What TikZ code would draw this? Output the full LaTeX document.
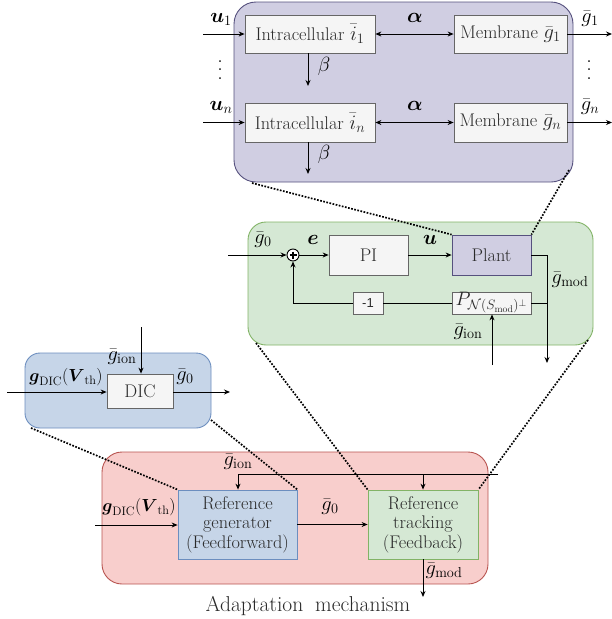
\RequirePackage{fix-cm}
\documentclass[tikz,border=0pt]{standalone}
\usepackage{amsmath,amssymb}
\usepackage{fontspec}
\newfontfamily\arialfont{Liberation Sans}
\usetikzlibrary{arrows.meta,calc}
\definecolor{purpfill}{HTML}{D0CEE2}
\definecolor{purpdraw}{HTML}{56517E}
\definecolor{grnfill}{HTML}{D5E8D4}
\definecolor{grndraw}{HTML}{82B366}
\definecolor{blufill}{HTML}{C6D5E8}
\definecolor{bludraw}{HTML}{6C8EBF}
\definecolor{redfill}{HTML}{F8CECC}
\definecolor{reddraw}{HTML}{B85450}
\definecolor{gboxfill}{HTML}{F5F5F5}
\definecolor{gboxdraw}{HTML}{666666}
\definecolor{boxtext}{HTML}{2A2A2A}
\newcommand\bigmath[1]{{\fontsize{20.5}{22}\selectfont$#1$}}
\begin{document}
\begin{tikzpicture}[x=1pt,y=-1pt,
  every node/.style={font=\fontsize{18.3}{19.5}\selectfont},
  outer/.style={draw, line width=0.9pt, inner sep=0pt, minimum width=#1},
  graybox/.style={draw=gboxdraw, fill=gboxfill, text=boxtext, line width=0.8pt, inner sep=0pt},
  lbl/.style={inner sep=0pt, font=\fontsize{20.5}{22}\selectfont},
  smalllbl/.style={inner sep=0pt, font=\fontsize{17.5}{20}\selectfont},
  vdotsnode/.style={inner sep=0pt, align=center, font=\fontsize{22}{8.5}\selectfont},
  arr/.style={-{Stealth[length=6pt,width=5pt]}, line width=0.9pt},
  darr/.style={{Stealth[length=6pt,width=5pt]}-{Stealth[length=6pt,width=5pt]}, line width=0.9pt},
  ln/.style={line width=0.9pt},
  zoomline/.style={line width=1.7pt, dash pattern=on 1.7pt off 1.5pt}
]
\useasboundingbox (0,0) rectangle (612,619);

% ---------- outer containers ----------
\node[outer=339pt, minimum height=180pt, draw=purpdraw, fill=purpfill, rounded corners=22pt] (purp) at (403.5,92) {};
\node[outer=345pt, minimum height=123pt, draw=grndraw, fill=grnfill, rounded corners=18pt] (grn) at (420.5,283.5) {};
\node[outer=186pt, minimum height=75pt, draw=bludraw, fill=blufill, rounded corners=15pt] (blu) at (118,390.5) {};
\node[outer=386pt, minimum height=132pt, draw=reddraw, fill=redfill, rounded corners=20pt] (red) at (295,518) {};

% ---------- inner boxes ----------
\node[graybox, minimum width=130pt, minimum height=38pt] (in1) at (310,34) {Intracellular \bigmath{\bar{i}_1}};
\node[graybox, minimum width=113pt, minimum height=38pt] (m1) at (510.5,34) {Membrane \bigmath{\bar{g}_1}};
\node[graybox, minimum width=130pt, minimum height=39pt] (inn) at (310,122.5) {Intracellular \bigmath{\bar{i}_n}};
\node[graybox, minimum width=113pt, minimum height=39pt] (mn) at (510.5,122.5) {Membrane \bigmath{\bar{g}_n}};

\node[graybox, minimum width=79pt, minimum height=40pt] (pi) at (368.5,255) {PI};
\node[graybox, draw=purpdraw, fill=purpfill, minimum width=79pt, minimum height=40pt] (plant) at (491.5,255) {Plant};
\node[graybox, minimum width=79pt, minimum height=22pt, font=\fontsize{19.5}{22}\selectfont] (proj) at (491.5,303) {$P_{\mathcal{N}(S_{\mathrm{mod}})^{\perp}}$};
\node[graybox, minimum width=30pt, minimum height=22pt, font=\arialfont\fontsize{13}{15}\selectfont] (neg) at (368,303) {-1};
\node[circle, draw, line width=0.9pt, fill=white, minimum size=12pt, inner sep=0pt] (sum) at (293,255) {};
\draw[line width=1.6pt] ($(sum.center)+(-3.5,0)$) -- ($(sum.center)+(3.5,0)$)
  ($(sum.center)+(0,-3.5)$) -- ($(sum.center)+(0,3.5)$);

\node[graybox, minimum width=66pt, minimum height=34pt] (dic) at (140,391) {DIC};

\node[graybox, draw=bludraw, fill=blufill, minimum width=119pt, minimum height=69pt, align=center] (gen) at (237.5,524.5) {Reference\\generator\\(Feedforward)};
\node[graybox, draw=grndraw, fill=grnfill, minimum width=110pt, minimum height=69pt, align=center] (trk) at (423,524.5) {Reference\\tracking\\(Feedback)};

% ---------- zoom (dotted) lines ----------
\coordinate (zp1) at (252,183);
\coordinate (zp2) at (569,170);
\coordinate (zg1) at (256,343);
\coordinate (zg2) at (588,340);
\coordinate (zb1) at (31,428);
\coordinate (zb2) at (211,420);
\draw[zoomline] (zp1) -- (plant.north west);
\draw[zoomline] (zp2) -- (plant.north east);
\draw[zoomline] (zg1) -- (trk.north west);
\draw[zoomline] (zg2) -- (trk.north east);
\draw[zoomline] (zb1) -- (gen.north west);
\draw[zoomline] (zb2) -- (gen.north east);

% ---------- purple block connectors ----------
\coordinate (u1in) at (203,34);
\coordinate (unin) at (203,122.5);
\coordinate (g1out) at (612,34);
\coordinate (gnout) at (612,122.5);
\coordinate (b1) at (308,86);
\coordinate (bn) at (308,174);
\draw[arr] (u1in) -- (in1.west);
\draw[arr] (unin) -- (inn.west);
\draw[arr] (m1.east) -- (g1out);
\draw[arr] (mn.east) -- (gnout);
\draw[darr] (in1.east) -- (m1.west);
\draw[darr] (inn.east) -- (mn.west);
\draw[arr] (in1.south -| b1) -- (b1);
\draw[arr] (inn.south -| bn) -- (bn);
\node[lbl] (lu1) at (221,19) {$\boldsymbol{u}_1$};
\node[lbl] (lun) at (221,107) {$\boldsymbol{u}_n$};
\node[lbl] (lg1) at (590,19) {$\bar{g}_1$};
\node[lbl] (lgn) at (590,107) {$\bar{g}_n$};
\node[lbl] (la1) at (415,18) {$\boldsymbol{\alpha}$};
\node[lbl] (lan) at (415,106) {$\boldsymbol{\alpha}$};
\node[lbl] (lb1) at (324,66) {$\beta$};
\node[lbl] (lbn) at (324,154) {$\beta$};
\node[vdotsnode] (vd1) at (220,70) {.\\.\\.};
\node[vdotsnode] (vd2) at (589,70) {.\\.\\.};

% ---------- green block connectors ----------
\coordinate (g0in) at (228,255);
\coordinate (jn) at (547,255);
\coordinate (jp) at (547,303);
\coordinate (gmodend) at (547,363);
\coordinate (fbk) at (293,303);
\coordinate (gionin) at (492,365);
\draw[arr] (g0in) -- (sum.west);
\draw[arr] (sum.east) -- (pi.west);
\draw[arr] (pi.east) -- (plant.west);
\draw[arr] (plant.east) -- (jn) -- (gmodend);
\draw[ln] (jp) -- (proj.east);
\draw[ln] (proj.west) -- (neg.east);
\draw[arr] (neg.west) -- (fbk) -- (sum.south);
\draw[arr] (gionin) -- (gionin |- proj.south);
\node[lbl] (lg0) at (263,240) {$\bar{g}_0$};
\node[lbl] (le) at (313,240) {$\boldsymbol{e}$};
\node[lbl] (lu) at (430,240) {$\boldsymbol{u}$};
\node[lbl] (lgmod) at (570,280) {$\bar{g}_{\mathrm{mod}}$};
\node[lbl] (lgion) at (468,332) {$\bar{g}_{\mathrm{ion}}$};

% ---------- DIC block connectors ----------
\coordinate (dicin) at (7,392);
\coordinate (dicion) at (141,327);
\coordinate (dicout) at (230,392);
\draw[arr] (dicin) -- (dicin -| dic.west);
\draw[arr] (dicion) -- (dicion |- dic.north);
\draw[arr] (dicout -| dic.east) -- (dicout);
\node[smalllbl] (ldicin) at (66,377) {$\boldsymbol{g}_{\mathrm{DIC}}(\boldsymbol{V}_{\mathrm{th}})$};
\node[lbl] (ldicion) at (122,357) {$\bar{g}_{\mathrm{ion}}$};
\node[lbl] (ldicout) at (185,377) {$\bar{g}_0$};

% ---------- adaptation mechanism connectors ----------
\coordinate (genin) at (95,525);
\coordinate (ionr) at (498,474);
\coordinate (ionl) at (238,474);
\coordinate (iont) at (423,474);
\coordinate (trkout) at (423,597);
\draw[arr] (genin) -- (genin -| gen.west);
\draw[arr] (gen.east) -- (trk.west);
\draw[ln] (ionr) -- (ionl);
\draw[arr] (ionl) -- (ionl |- gen.north);
\draw[arr] (iont) -- (trk.north);
\draw[arr] (trk.south) -- (trkout);
\node[smalllbl] (lgenin) at (139,507) {$\boldsymbol{g}_{\mathrm{DIC}}(\boldsymbol{V}_{\mathrm{th}})$};
\node[lbl] (lgen0) at (330,507) {$\bar{g}_0$};
\node[lbl] (lredion) at (238,462) {$\bar{g}_{\mathrm{ion}}$};
\node[lbl] (lredmod) at (444,571) {$\bar{g}_{\mathrm{mod}}$};
\node[lbl, text=boxtext, font=\fontsize{21.5}{23}\selectfont] (title) at (308,606) {Adaptation\hspace{12pt}mechanism};
\end{tikzpicture}
\end{document}
